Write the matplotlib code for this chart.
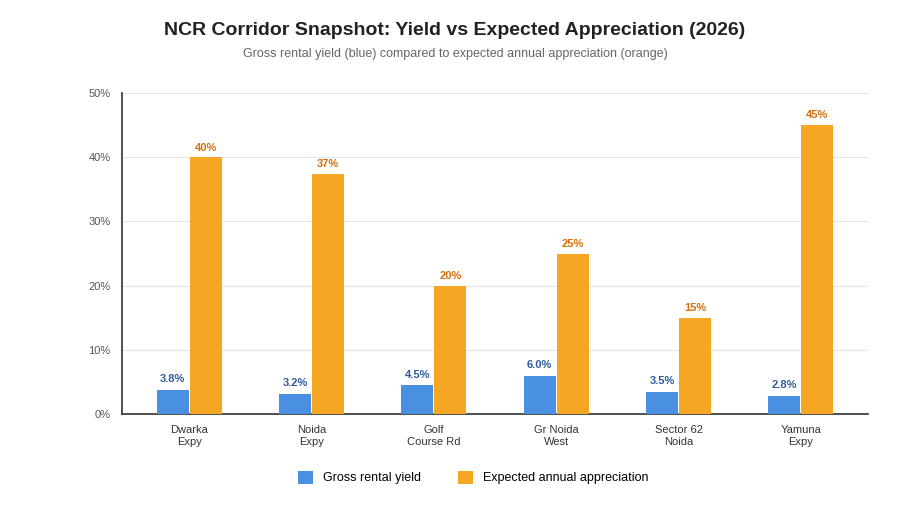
import numpy as np
import matplotlib.pyplot as plt

plt.rcParams['font.family'] = ['Liberation Sans', 'DejaVu Sans']

corridors = ["Dwarka\nExpy", "Noida\nExpy", "Golf\nCourse Rd", "Gr Noida\nWest", "Sector 62\nNoida", "Yamuna\nExpy"]
rental_yield = [3.8, 3.2, 4.5, 6.0, 3.5, 2.8]
appreciation = [40, 37.4, 20, 25, 15, 45]

fig = plt.figure(figsize=(9.1, 5.07), dpi=100)
ax = fig.add_axes([0.134, 0.183, 0.82, 0.634])

x = np.arange(len(corridors))
w = 0.26
b1 = ax.bar(x - 0.135, rental_yield, w, color='#4A90E2', label='Gross rental yield', zorder=3)
b2 = ax.bar(x + 0.135, appreciation, w, color='#F5A623', label='Expected annual appreciation', zorder=3)

for r, v in zip(b1, rental_yield):
    ax.text(r.get_x() + r.get_width() / 2, v + 0.9, f"{v:.1f}%", ha='center', va='bottom',
            fontsize=8, fontweight='bold', color='#2E5C9A')
for r, v in zip(b2, appreciation):
    ax.text(r.get_x() + r.get_width() / 2, v + 0.7, f"{v:.0f}%", ha='center', va='bottom',
            fontsize=8, fontweight='bold', color='#D4700F')

ax.set_xlim(-0.55, len(corridors) - 0.45)
ax.set_ylim(0, 50)
ax.set_yticks(range(0, 51, 10))
ax.set_yticklabels([f"{t}%" for t in range(0, 51, 10)], fontsize=8, color='#555555')
ax.set_xticks(x)
ax.set_xticklabels(corridors, fontsize=8, color='#333333')
ax.tick_params(axis='both', length=0, pad=8)
ax.grid(axis='y', color='#e6e6e6', linewidth=0.8, zorder=0)
for s in ['top', 'right']:
    ax.spines[s].set_visible(False)
for s in ['left', 'bottom']:
    ax.spines[s].set_color('#333333')
    ax.spines[s].set_linewidth(1.2)

fig.text(0.5, 0.94, "NCR Corridor Snapshot: Yield vs Expected Appreciation (2026)",
         ha='center', va='center', fontsize=14, fontweight='bold', color='#222222')
fig.text(0.5, 0.893, "Gross rental yield (blue) compared to expected annual appreciation (orange)",
         ha='center', va='center', fontsize=9, color='#666666')

fig.legend(handles=[b1, b2], loc='center', bbox_to_anchor=(0.52, 0.058), ncol=2, frameon=False,
           fontsize=9, handlelength=1.2, handleheight=1.2, columnspacing=3)

fig.savefig('out.png', dpi=100)
